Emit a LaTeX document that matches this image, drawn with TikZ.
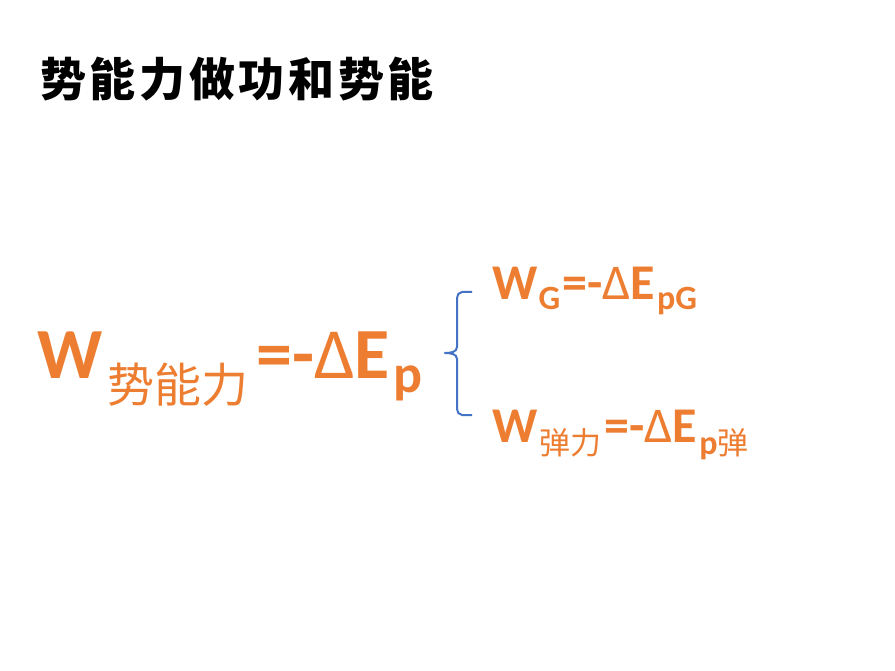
\documentclass[tikz,border=0pt]{standalone}
\usepackage{fontspec}
\setmainfont{Carlito}
\newfontfamily\cjk{Noto Sans CJK SC}
\newfontfamily\cjktitle{Noto Sans CJK SC}[LetterSpace=8]
\usetikzlibrary{positioning}
\definecolor{ppOrange}{HTML}{ED7D31}
\definecolor{ppBlue}{HTML}{4472C4}
\tikzstyle{heading}=[inner sep=0pt, anchor=base west, font=\cjktitle\bfseries\fontsize{46}{46}\selectfont]
\tikzstyle{formula}=[inner sep=0pt, anchor=base west, text=ppOrange, font=\bfseries]
\tikzstyle{brace}=[draw=ppBlue, line width=2pt, line join=round]
\newcommand{\fs}[1]{\fontsize{#1}{#1}\selectfont}

\begin{document}
\begin{tikzpicture}[x=1pt, y=-1pt]
  \useasboundingbox[fill=white] (0,0) rectangle (895,671);
  \node[heading] (title) at (40,97) {势能力做功和势能};
  \node[formula] (Wp) at (37,378)
    {\fs{72}W\kern5pt\raisebox{-24pt}{\cjk\mdseries\fs{47}势能力}\kern8pt=-{\mdseries Δ}E\kern3pt\raisebox{-14pt}{\fs{54}p}};
  \node[formula] (WG) at (492,300)
    {\fs{50}W\kern1pt\raisebox{-10pt}{\fs{34}G}\kern2pt=-{\mdseries Δ}E\kern2pt\raisebox{-10pt}{\fs{34}pG}};
  \node[formula] (Wel) at (492,442)
    {\fs{50}W\kern2pt\raisebox{-12pt}{\cjk\mdseries\fs{31}弹力}\kern3pt=-{\mdseries Δ}E\kern2pt\raisebox{-12pt}{\fs{34}p{\cjk\mdseries\fs{31}弹}}};
  % brace
  \draw[brace] (472,292) -- (462,292) to[out=180,in=90] (457,298) -- (457,347)
    to[out=-90,in=0] (445,353) to[out=0,in=90] (457,359) -- (457,409)
    to[out=-90,in=180] (462,415) -- (472,415);
\end{tikzpicture}
\end{document}
